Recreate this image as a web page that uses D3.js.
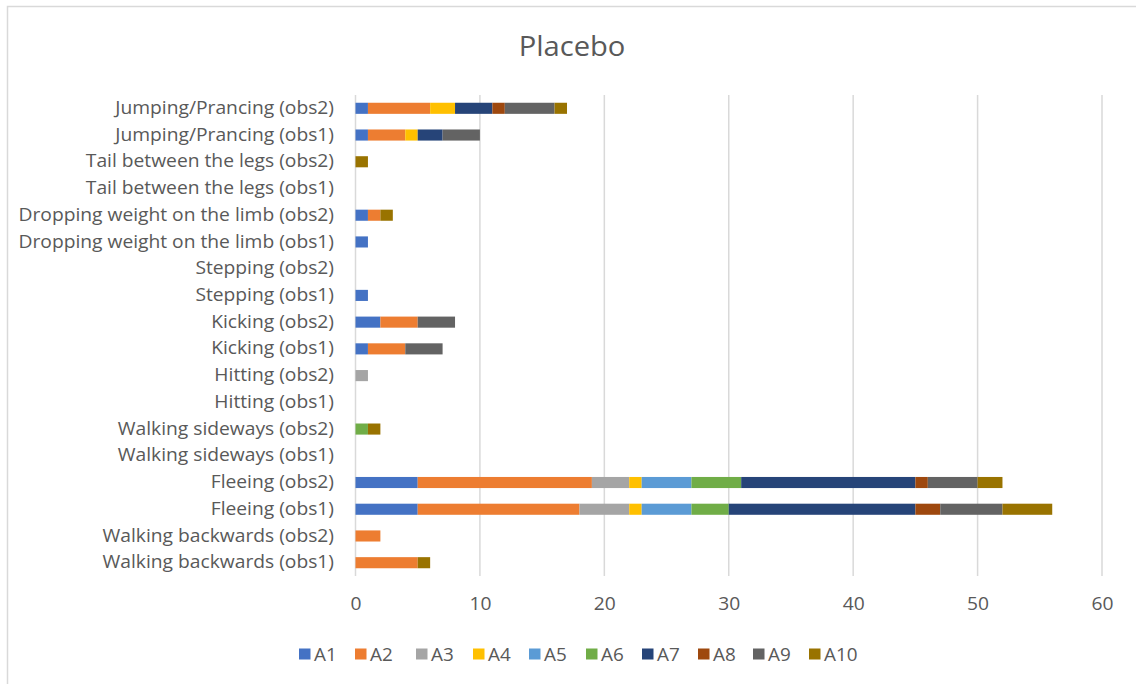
<!DOCTYPE html>
<html>
<head>
<meta charset="utf-8">
<script src="https://cdn.jsdelivr.net/npm/d3@7"></script>
<style>
  html, body { margin: 0; padding: 0; background: #fff; }
  svg { display: block; }
  text { font-family: "Open Sans", "Liberation Sans", sans-serif; fill: #595959; }
</style>
</head>
<body>
<svg id="chart" width="1136" height="684"></svg>
<script>
// Categories, bottom to top as in the chart
const categories = [
  "Walking backwards (obs1)", "Walking backwards (obs2)",
  "Fleeing (obs1)", "Fleeing (obs2)",
  "Walking sideways (obs1)", "Walking sideways (obs2)",
  "Hitting (obs1)", "Hitting (obs2)",
  "Kicking (obs1)", "Kicking (obs2)",
  "Stepping (obs1)", "Stepping (obs2)",
  "Dropping weight on the limb (obs1)", "Dropping weight on the limb (obs2)",
  "Tail between the legs (obs1)", "Tail between the legs (obs2)",
  "Jumping/Prancing (obs1)", "Jumping/Prancing (obs2)"
];
const seriesNames = ["A1", "A2", "A3", "A4", "A5", "A6", "A7", "A8", "A9", "A10"];
// values per series, aligned with categories
const A1  = [0, 0, 5, 5, 0, 0, 0, 0, 1, 2, 1, 0, 1, 1, 0, 0, 1, 1];
const A2  = [5, 2, 13, 14, 0, 0, 0, 0, 3, 3, 0, 0, 0, 1, 0, 0, 3, 5];
const A3  = [0, 0, 4, 3, 0, 0, 0, 1, 0, 0, 0, 0, 0, 0, 0, 0, 0, 0];
const A4  = [0, 0, 1, 1, 0, 0, 0, 0, 0, 0, 0, 0, 0, 0, 0, 0, 1, 2];
const A5  = [0, 0, 4, 4, 0, 0, 0, 0, 0, 0, 0, 0, 0, 0, 0, 0, 0, 0];
const A6  = [0, 0, 3, 4, 0, 1, 0, 0, 0, 0, 0, 0, 0, 0, 0, 0, 0, 0];
const A7  = [0, 0, 15, 14, 0, 0, 0, 0, 0, 0, 0, 0, 0, 0, 0, 0, 2, 3];
const A8  = [0, 0, 2, 1, 0, 0, 0, 0, 0, 0, 0, 0, 0, 0, 0, 0, 0, 1];
const A9  = [0, 0, 5, 4, 0, 0, 0, 0, 3, 3, 0, 0, 0, 0, 0, 0, 3, 4];
const A10 = [1, 0, 4, 2, 0, 1, 0, 0, 0, 0, 0, 0, 0, 1, 0, 1, 0, 1];
const seriesValues = [A1, A2, A3, A4, A5, A6, A7, A8, A9, A10];
const xTicks = [0, 10, 20, 30, 40, 50, 60];
const title = "Placebo";
const colors = ["#4472C4", "#ED7D31", "#A5A5A5", "#FFC000", "#5B9BD5",
                "#70AD47", "#264478", "#9E480E", "#636363", "#997300"];

const svg = d3.select("#chart");
const W = 1136, H = 684;
const margin = { left: 355.5, right: 34, top: 95, bottom: 108 };
const FONT = '"Open Sans", "Liberation Sans", sans-serif';
const stretch = 1.1;

// outer chart border (top and left visible)
svg.append("rect").attr("x", 7.5).attr("y", 6.5).attr("width", W + 20).attr("height", H + 20)
  .attr("fill", "none").attr("stroke", "#d9d9d9").attr("stroke-width", 1.5);

const table = categories.map((c, i) => {
  const row = { cat: c };
  seriesNames.forEach((s, j) => row[s] = seriesValues[j][i]);
  return row;
});
const stacked = d3.stack().keys(seriesNames)(table);

const x = d3.scaleLinear().domain([0, 60]).range([margin.left, W - margin.right]);
const y = d3.scaleBand().domain(categories.slice().reverse())
  .range([margin.top, H - margin.bottom]).paddingInner(0.585).paddingOuter(0.29);

// gridlines
svg.append("g").selectAll("line").data(xTicks).join("line")
  .attr("x1", d => x(d)).attr("x2", d => x(d))
  .attr("y1", margin.top).attr("y2", H - margin.bottom)
  .attr("stroke", "#d9d9d9").attr("stroke-width", 1.5);

// bars
svg.append("g").selectAll("g").data(stacked).join("g")
  .attr("fill", (d, i) => colors[i])
  .selectAll("rect").data(d => d.filter(p => p[1] - p[0] > 0)).join("rect")
  .attr("x", d => x(d[0])).attr("width", d => x(d[1]) - x(d[0]))
  .attr("y", d => y(d.data.cat)).attr("height", y.bandwidth());

// x axis tick labels
const xAxis = d3.axisBottom(x).tickValues(xTicks).tickSize(0).tickPadding(22);
const gx = svg.append("g").attr("transform", `translate(0,${H - margin.bottom})`).call(xAxis);
gx.select(".domain").remove();
gx.selectAll("text").style("font-size", "17.5px").attr("fill", "#595959")
  .style("font-family", FONT).attr("transform", `scale(${stretch},1)`);

// y axis labels
const yAxis = d3.axisLeft(y).tickSize(0).tickPadding(21.5 / stretch);
const gy = svg.append("g").attr("transform", `translate(${margin.left},0)`).call(yAxis);
gy.select(".domain").remove();
gy.selectAll("text").style("font-size", "17.5px").attr("fill", "#595959")
  .style("font-family", FONT).attr("transform", `scale(${stretch},1)`);

// title
svg.append("text").attr("text-anchor", "middle")
  .attr("transform", `translate(572,56) scale(${stretch},1)`)
  .style("font-size", "26.5px").text(title);

// legend
const legendX = [299, 355, 416, 473, 529, 586, 642, 698, 753, 809];
const lg = svg.append("g").selectAll("g").data(seriesNames).join("g")
  .attr("transform", (d, i) => `translate(${legendX[i]},654)`);
lg.append("rect").attr("x", 0).attr("y", -5.5).attr("width", 11.5).attr("height", 11)
  .attr("fill", (d, i) => colors[i]);
lg.append("text").attr("transform", `translate(15,6.5) scale(1.05,1)`)
  .style("font-size", "18px").text(d => d);
</script>
</body>
</html>
